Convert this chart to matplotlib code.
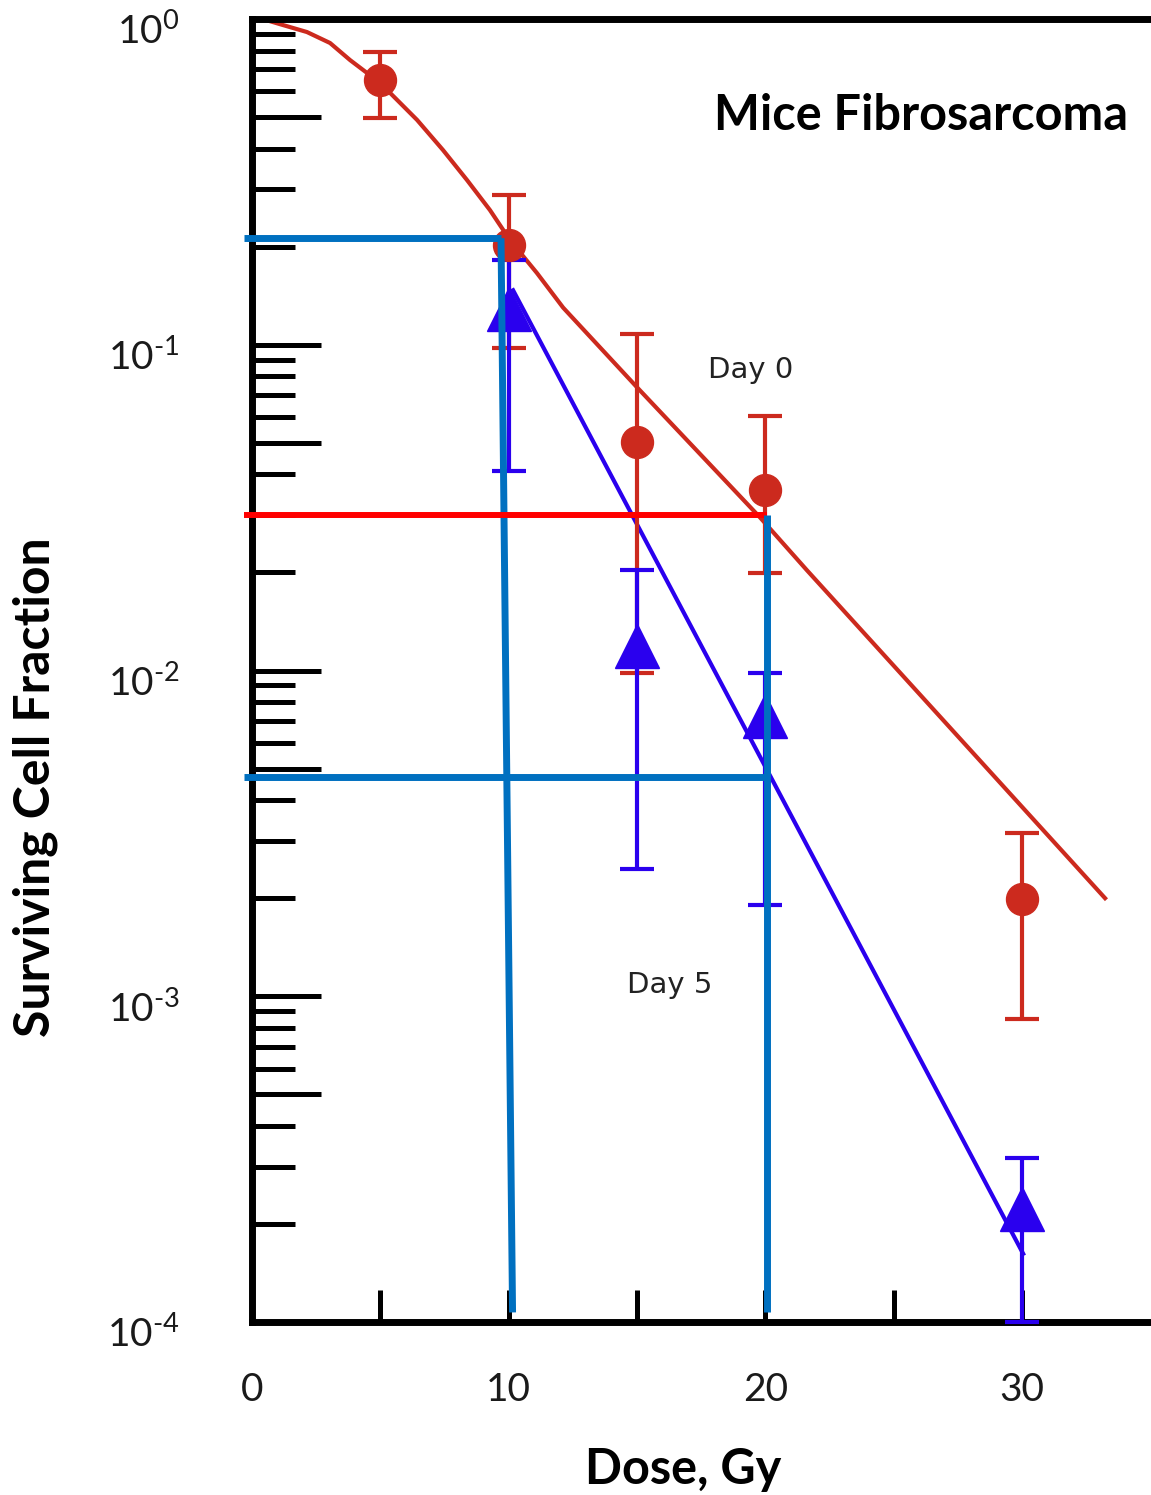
import numpy as np
import matplotlib
matplotlib.use('Agg')
import matplotlib.pyplot as plt
import matplotlib.transforms as mtransforms
from matplotlib.ticker import FixedLocator, FixedFormatter

plt.rcParams['mathtext.fontset'] = 'custom'
plt.rcParams['mathtext.rm'] = 'Lato'
plt.rcParams['mathtext.it'] = 'Lato:italic'
plt.rcParams['mathtext.bf'] = 'Lato:bold'

# ── data ────────────────────────────────────────────────────────────────────
DOSE_D0   = [5, 10, 15, 20, 30]
SF_D0     = [0.650, 0.202, 0.0502, 0.0357, 0.00199]
SF_D0_LO  = [0.496, 0.0975, 0.0098, 0.0199, 0.000853]
SF_D0_HI  = [0.792, 0.288, 0.1077, 0.0603, 0.00316]

DOSE_D5   = [10, 15, 20, 30]
SF_D5     = [0.129, 0.0119, 0.00727, 0.000222]
SF_D5_LO  = [0.0411, 0.00245, 0.0019, 0.0001]
SF_D5_HI  = [0.182, 0.0204, 0.0098, 0.000319]

# fitted curves (traced)
FIT_D0_X = [0, 0.6, 1.21, 2.14, 3.04, 3.82, 4.48, 5.38, 6.43, 7.44, 8.38, 9.27,
            10.05, 11.10, 12.12, 15.0, 19.79, 21.62, 33.23]
FIT_D0_Y = [1.0, 0.99, 0.958, 0.912, 0.844, 0.748, 0.683, 0.593, 0.490, 0.396,
            0.320, 0.259, 0.2095, 0.166, 0.130, 0.0740, 0.0295, 0.0203, 0.0020]
FIT_D5_X = [10.17, 30.04]
FIT_D5_Y = [0.147, 0.000162]

# read-off guide lines
GUIDE_LEFT   = -0.3
GUIDE_FLOOR  = 1.07e-4
SF_D0_10GY   = 0.2124
SF_D0_20GY   = 0.0301
SF_D5_20GY   = 0.00472
VLINE_10_TOP = 9.7
VLINE_10_BOT = 10.15
VLINE_20     = 20.06

RED      = '#CC2A1E'
BLUE     = '#2A00EE'
GUIDE_B  = '#0070C0'
GUIDE_R  = '#FF0000'

fig = plt.figure(figsize=(11.51, 14.95), dpi=100)
ax = fig.add_axes([252 / 1151, 1 - 1322 / 1495, 899 / 1151, (1322 - 19) / 1495])
ax.set_yscale('log')
ax.set_xlim(0, 35.02)
ax.set_ylim(1e-4, 1)

# curves
ax.plot(FIT_D0_X, FIT_D0_Y, color=RED, lw=3, zorder=2, solid_joinstyle='round')
ax.plot(FIT_D5_X, FIT_D5_Y, color=BLUE, lw=3, zorder=2)

# data with error bars
for dose, sf, lo, hi, color, marker, ms in [
        (DOSE_D0, SF_D0, SF_D0_LO, SF_D0_HI, RED, 'o', 23),
        (DOSE_D5, SF_D5, SF_D5_LO, SF_D5_HI, BLUE, '^', 32)]:
    sf = np.array(sf)
    yerr = [sf - np.array(lo), np.array(hi) - sf]
    ax.errorbar(dose, sf, yerr=yerr, fmt=marker, color=color, ms=ms,
                elinewidth=3, capsize=12, capthick=3, zorder=3, clip_on=False)

# guide lines
guide_kw = dict(clip_on=False, zorder=5, solid_capstyle='butt')
ax.plot([GUIDE_LEFT, VLINE_10_TOP], [SF_D0_10GY, SF_D0_10GY], color=GUIDE_B, lw=5, **guide_kw)
ax.plot([VLINE_10_TOP, VLINE_10_BOT], [SF_D0_10GY, GUIDE_FLOOR], color=GUIDE_B, lw=5, **guide_kw)
ax.plot([GUIDE_LEFT, VLINE_20], [SF_D0_20GY, SF_D0_20GY], color=GUIDE_R, lw=4.3, **guide_kw)
ax.plot([VLINE_20, VLINE_20], [SF_D0_20GY, GUIDE_FLOOR], color=GUIDE_B, lw=5, **guide_kw)
ax.plot([GUIDE_LEFT, VLINE_20], [SF_D5_20GY, SF_D5_20GY], color=GUIDE_B, lw=5, **guide_kw)

# spines
for side in ['left', 'bottom', 'top']:
    ax.spines[side].set_linewidth(5)
    ax.spines[side].set_color('black')
ax.spines['right'].set_visible(False)

# y ticks: long at decades and 5x, short at the rest
decades = [1e-4, 1e-3, 1e-2, 1e-1, 1]
fives = [5e-4, 5e-3, 5e-2, 5e-1]
major_y = sorted(decades + fives)
labels_y = []
for v in major_y:
    if v in decades:
        e = int(round(np.log10(v)))
        if e == 0:
            labels_y.append(r'$10^{0}$')
        else:
            labels_y.append(r'$10^{\text{-}%d}$' % abs(e))
    else:
        labels_y.append('')
ax.yaxis.set_major_locator(FixedLocator(major_y))
ax.yaxis.set_major_formatter(FixedFormatter(labels_y))
minor_y = [m * 10.0 ** e for e in range(-4, 0) for m in [2, 3, 4, 6, 7, 8, 9]]
ax.yaxis.set_minor_locator(FixedLocator(minor_y))
ax.yaxis.set_minor_formatter(FixedFormatter([''] * len(minor_y)))

ax.set_xticks([0, 10, 20, 30])
ax.set_xticks([5, 15, 25], minor=True)
ax.set_xticklabels(['0', '10', '20', '30'], fontfamily='Lato', fontsize=28)

ax.tick_params(axis='y', which='major', direction='in', length=50, width=3.6,
               pad=52, labelsize=28, labelcolor='#1a1a1a')
ax.tick_params(axis='y', which='minor', direction='in', length=31, width=3.6)
ax.tick_params(axis='x', which='both', direction='in', length=23, width=3.6,
               pad=36, labelcolor='#1a1a1a')
ax.tick_params(top=False, right=False, which='both')

# the y labels sit a little below their ticks in the original
shift = mtransforms.ScaledTranslation(0, -7 / 72, fig.dpi_scale_trans)
for lab in ax.get_yticklabels():
    lab.set_transform(lab.get_transform() + shift)

# texts
ax.text(19.44, 0.0835, 'Day 0', fontsize=21, color='#222222', ha='center', va='center')
ax.text(16.28, 0.00108, 'Day 5', fontsize=21, color='#222222', ha='center', va='center')
fig.text(921 / 1151, 1 - 115 / 1495, 'Mice Fibrosarcoma', fontfamily='Lato',
         fontweight='bold', fontsize=35, ha='center', va='center')
fig.text(35 / 1151, 1 - 787 / 1495, 'Surviving Cell Fraction', fontfamily='Lato',
         fontweight='bold', fontsize=36, rotation=90, ha='center', va='center')
fig.text(683 / 1151, 1 - 1470 / 1495, 'Dose, Gy', fontfamily='Lato',
         fontweight='bold', fontsize=35, ha='center', va='center')

fig.savefig('out.png', dpi=100)
